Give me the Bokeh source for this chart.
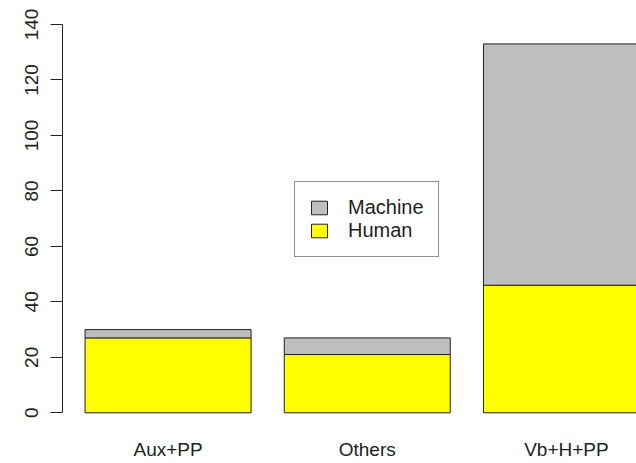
import numpy as np
from bokeh.plotting import figure
from bokeh.models import ColumnDataSource, Legend, LegendItem, FixedTicker, Range1d
from bokeh.embed import file_html
from bokeh.resources import INLINE

categories = ["Aux+PP", "Others", "Vb+H+PP"]
human = [27, 21, 46]
machine = [3, 6, 87]
y_ticks = [0, 20, 40, 60, 80, 100, 120, 140]

# R barplot layout: width 1, space 0.2
centers = [0.7 + 1.2 * i for i in range(len(categories))]
human_top = list(np.array(human))
machine_top = list(np.array(human) + np.array(machine))

src = ColumnDataSource(dict(x=centers, cat=categories, human=human,
                            zero=[0] * len(categories),
                            htop=human_top, mtop=machine_top))

FONT = "Liberation Sans"
INK = "#222222"

p = figure(width=636, height=463, output_backend="svg", toolbar_location=None,
           x_range=Range1d(0.064, 3.522), y_range=Range1d(-3.14, 148.65),
           min_border_left=62, min_border_right=0, min_border_top=0,
           min_border_bottom=42)
p.outline_line_color = None
p.xgrid.visible = False
p.ygrid.visible = False
p.background_fill_color = "white"
p.border_fill_color = "white"

rh = p.vbar(x="x", width=1.0, bottom="zero", top="htop", source=src,
            fill_color="#FFFF00", line_color=INK, line_width=1)
rm = p.vbar(x="x", width=1.0, bottom="htop", top="mtop", source=src,
            fill_color="#BEBEBE", line_color=INK, line_width=1)

# x axis: category names, no line, no ticks
xa = p.xaxis[0]
xa.ticker = FixedTicker(ticks=centers)
xa.major_label_overrides = {c: n for c, n in zip(centers, categories)}
xa.axis_line_color = None
xa.major_tick_line_color = None
xa.minor_tick_line_color = None
xa.major_label_standoff = 11
xa.major_label_text_font = FONT
xa.major_label_text_font_size = "19px"
xa.major_label_text_color = INK

ya = p.yaxis[0]
ya.ticker = FixedTicker(ticks=y_ticks)
ya.bounds = (0, 140)
ya.axis_line_color = INK
ya.major_tick_line_color = INK
ya.minor_tick_line_color = None
ya.major_tick_in = 0
ya.major_tick_out = 12
ya.major_label_orientation = "vertical"
ya.major_label_standoff = 12
ya.major_label_text_font = FONT
ya.major_label_text_font_size = "19px"
ya.major_label_text_color = INK

legend = Legend(items=[LegendItem(label="Machine", renderers=[rm]),
                       LegendItem(label="Human", renderers=[rh])],
                location=(232, 164), padding=14, spacing=0, margin=0,
                label_standoff=19, glyph_width=20, glyph_height=17,
                label_height=20,
                label_text_font=FONT, label_text_font_size="20px",
                label_text_color=INK,
                border_line_color=INK, border_line_width=1,
                background_fill_color="white", background_fill_alpha=1.0)
p.add_layout(legend, "center")

open("out.html", "w").write(file_html(p, INLINE))
